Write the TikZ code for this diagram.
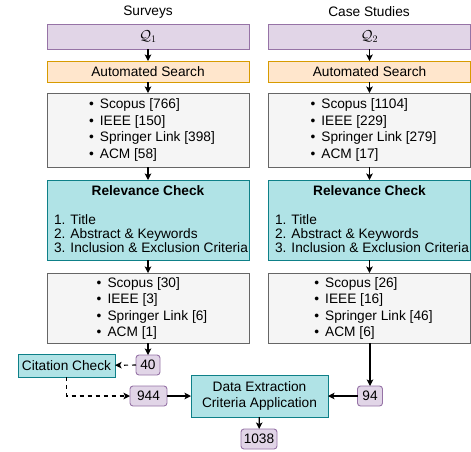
\documentclass[tikz,border=0pt]{standalone}
\usepackage{fontspec}
\setmainfont{Liberation Sans}
\usetikzlibrary{arrows.meta,calc}
\definecolor{pfill}{HTML}{E1D5E7}
\definecolor{pdraw}{HTML}{9673A6}
\definecolor{ofill}{HTML}{FFE6CC}
\definecolor{odraw}{HTML}{D79B00}
\definecolor{gfill}{HTML}{F5F5F5}
\definecolor{gdraw}{HTML}{666666}
\definecolor{tfill}{HTML}{B0E3E6}
\definecolor{tdraw}{HTML}{0E8088}
\begin{document}
\begin{tikzpicture}[x=1pt,y=-1pt,
  every node/.style={font=\fontsize{13.7}{16.4}\selectfont, inner sep=0pt, outer sep=0pt},
  box/.style={draw, line width=0.9pt, minimum width=202pt},
  qbox/.style={box, fill=pfill, draw=pdraw, minimum height=25pt},
  sbox/.style={box, fill=ofill, draw=odraw, minimum height=21pt},
  lbox/.style={box, fill=gfill, draw=gdraw},
  rbox/.style={box, fill=tfill, draw=tdraw, minimum height=80pt},
  numbox/.style={draw=pdraw, fill=pfill, line width=0.9pt, rounded corners=3pt, minimum height=20pt},
  tealbox/.style={draw=tdraw, fill=tfill, line width=0.9pt},
  listtxt/.style={align=left, font=\fontsize{13.7}{16.6}\selectfont},
  rctxt/.style={align=left, anchor=base west, font=\fontsize{13.7}{14.3}\selectfont},
  arr/.style={-{Stealth[length=6.5pt,width=6.5pt,inset=1.5pt]}, line width=1.2pt},
  darr/.style={arr, dash pattern=on 4pt off 4pt}
]
\useasboundingbox (0,0) rectangle (471,451);

% headers
\node (hL) at (148,12) {Surveys};
\node (hR) at (369,12) {Case Studies};

% left column
\node[qbox] (qL) at (148,36.5) {$\mathcal{Q}_1$};
\node[sbox] (sL) at (148,71.5) {Automated Search};
\node[lbox, minimum height=74pt] (aL) at (148,130) {};
\node[listtxt] (aLt) at (152,130) {•\hspace{6pt}Scopus [766]\\•\hspace{6pt}IEEE [150]\\•\hspace{6pt}Springer Link [398]\\•\hspace{6pt}ACM [58]};
\node[rbox] (rL) at (148,220) {};
\node[anchor=base, font=\fontsize{13.7}{14.3}\selectfont\bfseries] (rLh) at (148,195.5) {Relevance Check};
\node[rctxt] (rLt) at (54,252.6) {1. Title\\2. Abstract \& Keywords\\3. Inclusion \& Exclusion Criteria};
\node[lbox, minimum height=70pt] (bL) at (148,308) {};
\node[listtxt] (bLt) at (152,308.5) {•\hspace{6pt}Scopus [30]\\•\hspace{6pt}IEEE [3]\\•\hspace{6pt}Springer Link [6]\\•\hspace{6pt}ACM [1]};

% right column
\node[qbox] (qR) at (369.5,36.5) {$\mathcal{Q}_2$};
\node[sbox] (sR) at (369.5,71.5) {Automated Search};
\node[lbox, minimum height=74pt] (aR) at (369.5,130) {};
\node[listtxt] (aRt) at (373.5,130) {•\hspace{6pt}Scopus [1104]\\•\hspace{6pt}IEEE [229]\\•\hspace{6pt}Springer Link [279]\\•\hspace{6pt}ACM [17]};
\node[rbox] (rR) at (369.5,220) {};
\node[anchor=base, font=\fontsize{13.7}{14.3}\selectfont\bfseries] (rRh) at (369.5,195.5) {Relevance Check};
\node[rctxt] (rRt) at (275,252.6) {1. Title\\2. Abstract \& Keywords\\3. Inclusion \& Exclusion Criteria};
\node[lbox, minimum height=70pt] (bR) at (369.5,308) {};
\node[listtxt] (bRt) at (373.5,308.5) {•\hspace{6pt}Scopus [26]\\•\hspace{6pt}IEEE [16]\\•\hspace{6pt}Springer Link [46]\\•\hspace{6pt}ACM [6]};

% bottom part
\node[numbox, minimum width=24pt] (n40) at (148,365) {40};
\node[tealbox, minimum width=97pt, minimum height=23pt] (cc) at (66.5,365.5) {Citation Check};
\node[numbox, minimum width=37pt] (n944) at (148.5,396) {944};
\node[tealbox, minimum width=137pt, minimum height=42pt, align=center] (de) at (259.5,396) {Data Extraction\\Criteria Application};
\node[numbox, minimum width=25pt] (n94) at (370,396) {94};
\node[numbox, minimum width=36pt] (n1038) at (259,439) {1038};

% connectors
\foreach \c in {L,R}{
  \draw[arr] (q\c) -- (s\c);
  \draw[arr] (s\c) -- (a\c);
  \draw[arr] (a\c) -- (r\c);
  \draw[arr] (r\c) -- (b\c);
}
\draw[arr] (bL) -- (n40);
\draw[darr] (n40) -- (cc);
\draw[darr] (cc.south) |- (n944.west);
\draw[arr] (n944) -- (de);
\draw[arr] (n94.north |- bR.south) -- (n94.north);
\draw[arr] (n94) -- (de);
\draw[arr] (de) -- (n1038);
\end{tikzpicture}
\end{document}
